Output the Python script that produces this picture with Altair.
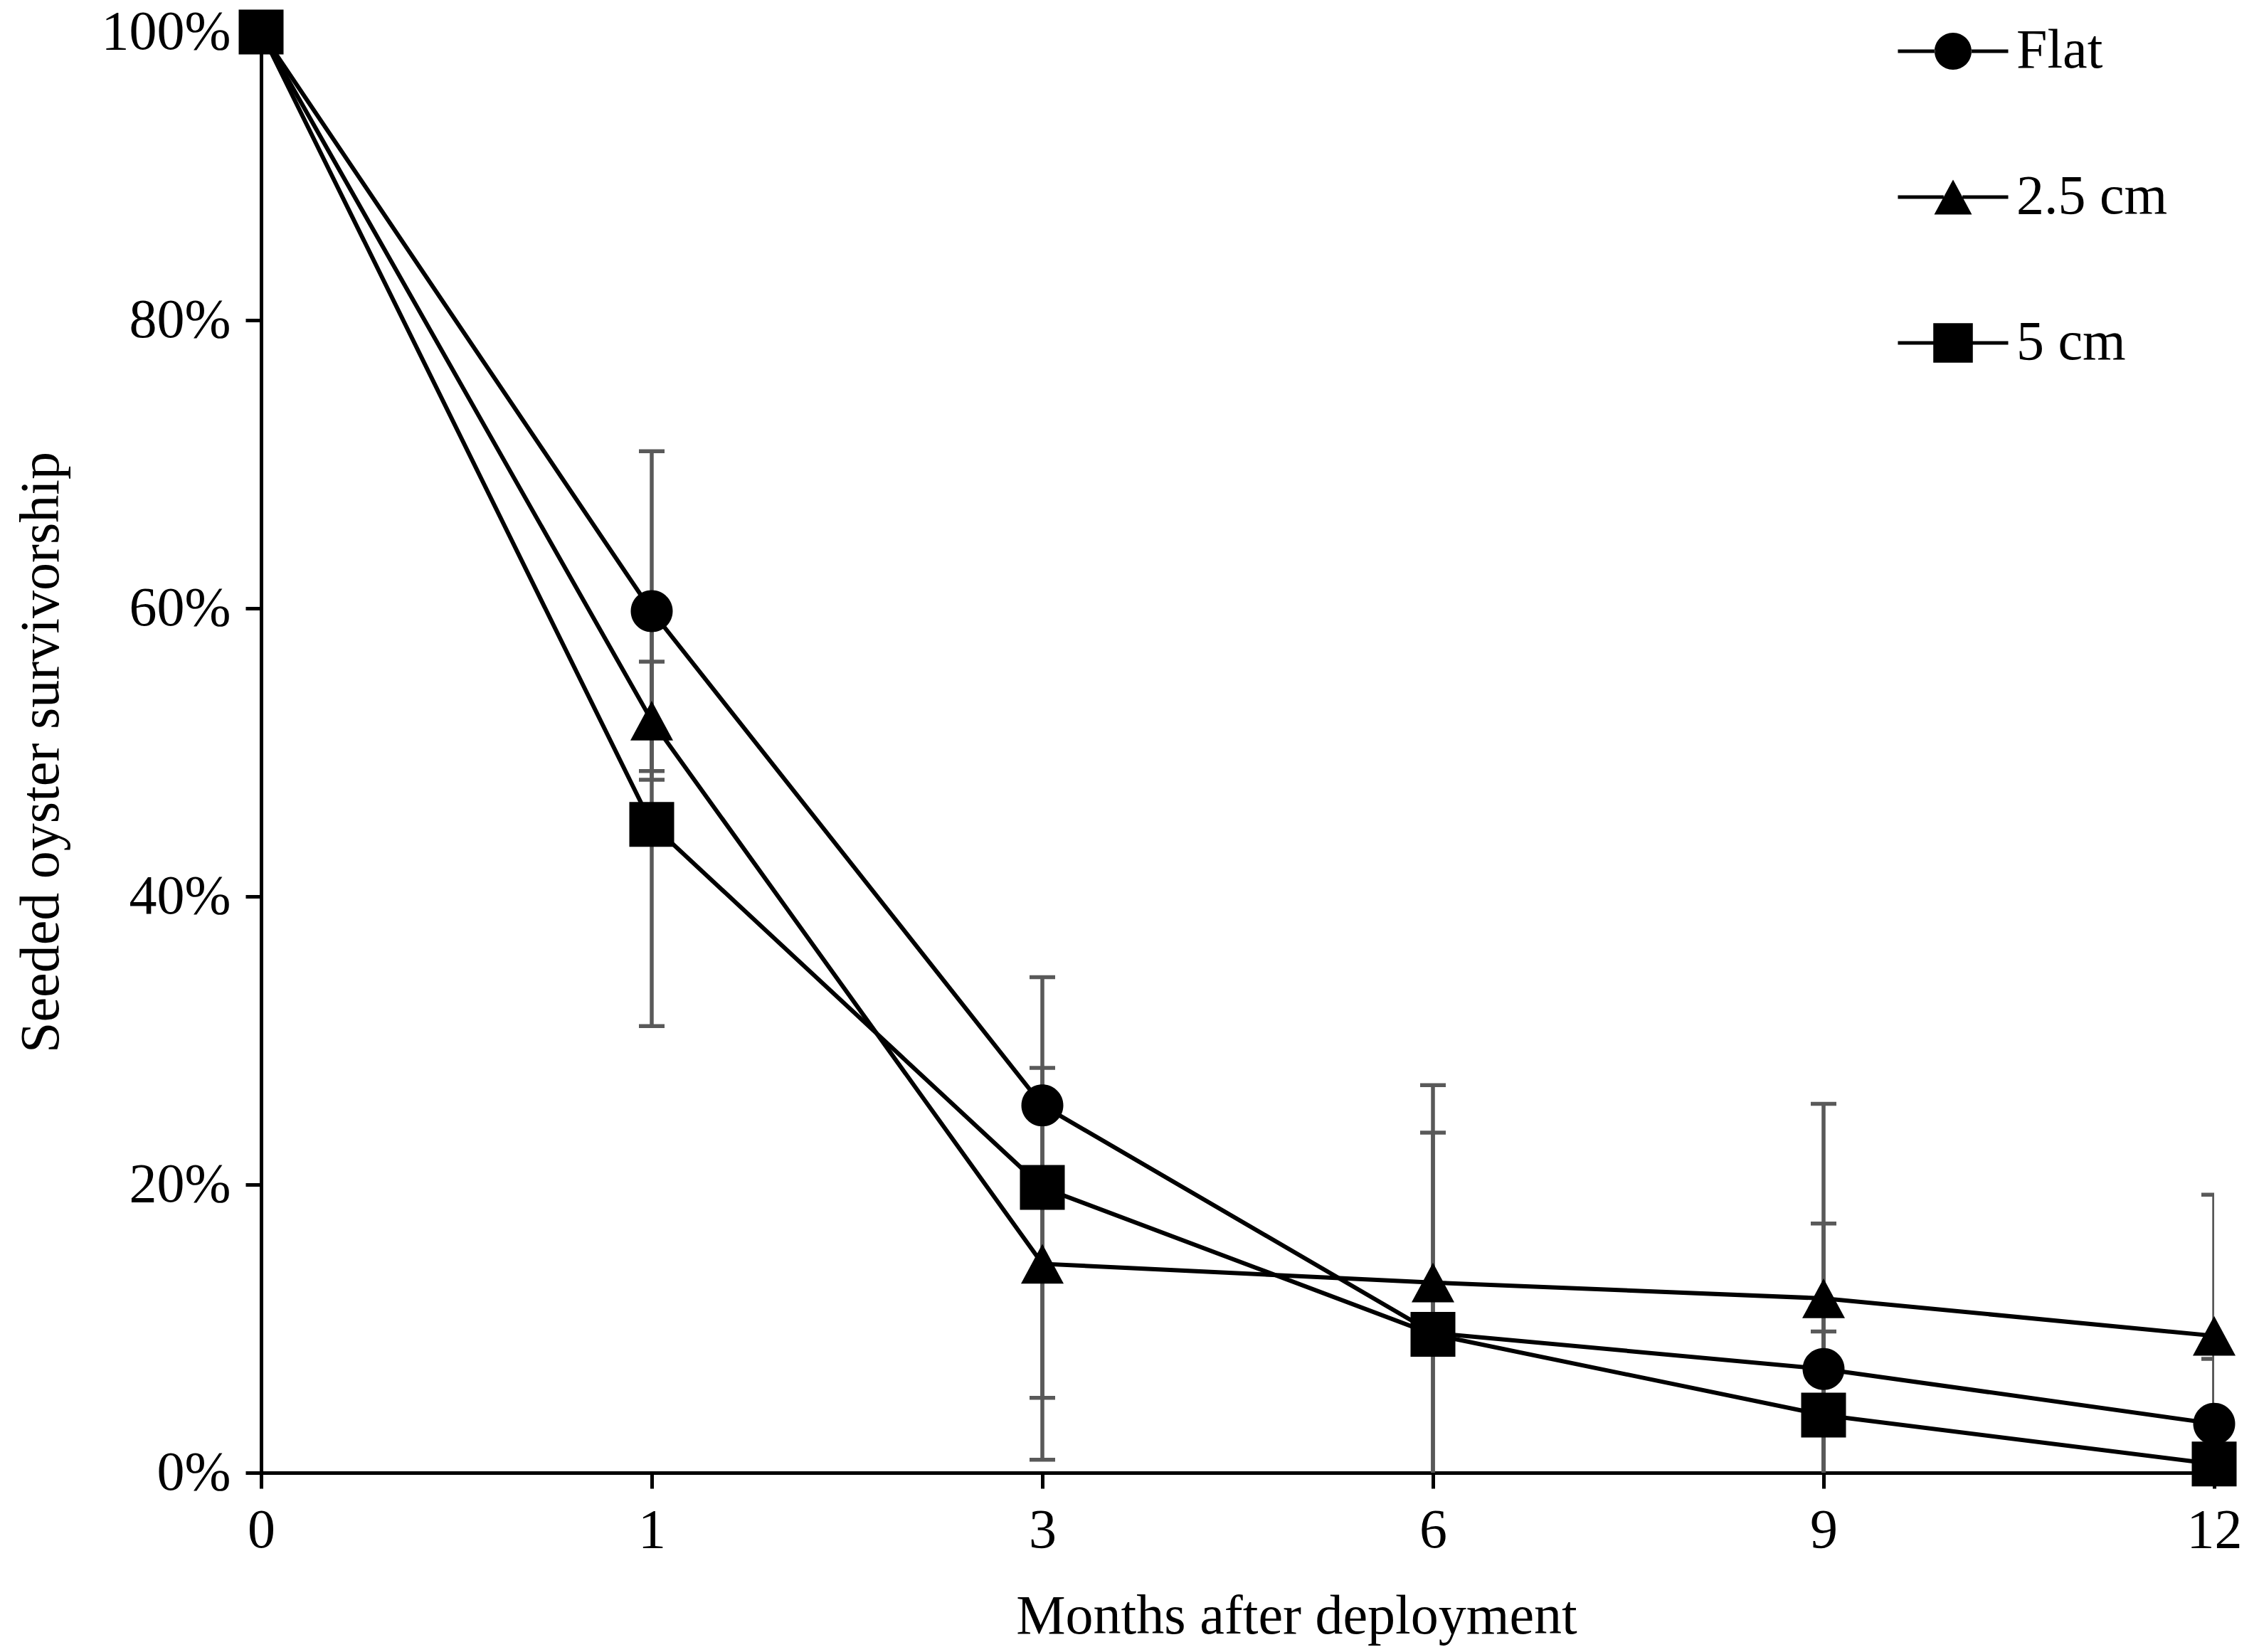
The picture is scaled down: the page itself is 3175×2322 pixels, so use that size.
import altair as alt
import pandas as pd

months = ["0", "1", "3", "6", "9", "12"]
series_names = ["Flat", "2.5 cm", "5 cm"]

flat_mean = [100, 59.8, 25.5, 9.7, 7.2, 3.4]
cm25_mean = [100, 52.2, 14.5, 13.2, 12.1, 9.5]
cm5_mean = [100, 45.0, 19.8, 9.6, 4.0, 0.6]

flat_err = [0, 11.1, 1.0, 13.9, 10.1, 4.5]
cm25_err = [0, 4.1, 13.6, 13.7, 13.5, 9.8]
cm5_err = [0, 14.0, 14.6, 1.0, 5.8, 1.0]

rows = []
for name, means, errs in zip(series_names,
                             [flat_mean, cm25_mean, cm5_mean],
                             [flat_err, cm25_err, cm5_err]):
    for i, (m, v, e) in enumerate(zip(months, means, errs)):
        rows.append({"month": m, "idx": i, "series": name,
                     "value": v / 100, "lo": (v - e) / 100, "hi": (v + e) / 100,
                     "err": e})
df = pd.DataFrame(rows)

# marker paths (unit = sqrt(size)/2)
circle_p = "M-0.983,0A0.983,0.983 0 1,0 0.983,0A0.983,0.983 0 1,0 -0.983,0Z"
tri_p = "M0,-0.93L1,0.93L-1,0.93Z"
sq_p = "M-1.05,-1.05L1.05,-1.05L1.05,1.05L-1.05,1.05Z"


def stubs(inner):
    t = 0.095
    L = 2.93
    return (f" M{-L},{-t}L{-inner},{-t}L{-inner},{t}L{-L},{t}Z"
            f" M{inner},{-t}L{L},{-t}L{L},{t}L{inner},{t}Z")


legend_paths = [circle_p + stubs(0.97), tri_p + stubs(0.5), sq_p + stubs(1.0)]

FONT = "Liberation Serif"
FS = 78

x_enc = alt.X("month:O", sort=months,
              scale=alt.Scale(type="point", padding=0),
              axis=alt.Axis(title="Months after deployment", labelAngle=0,
                            tickSize=22, tickWidth=5, domainWidth=5,
                            tickColor="black", domainColor="black",
                            labelColor="black", labelFont=FONT, labelFontSize=FS,
                            labelPadding=20, titleFont=FONT, titleFontSize=FS,
                            titleFontWeight="normal", titleColor="black",
                            titleX=1455, titleY=225, titleBaseline="alphabetic",
                            titleAlign="center"))

y_scale = alt.Scale(domain=[0, 1], nice=False)
y_axis = alt.Axis(title="Seeded oyster survivorship",
                  values=[0, 0.2, 0.4, 0.6, 0.8, 1.0], format=".0%",
                  grid=False, tickSize=22, tickWidth=5, domainWidth=5,
                  tickColor="black", domainColor="black",
                  labelColor="black", labelFont=FONT, labelFontSize=FS,
                  labelPadding=21, labelLimit=500, titleFont=FONT, titleFontSize=FS,
                  titleFontWeight="normal", titleColor="black",
                  titleX=-286, titleY=1012, titleAngle=270,
                  titleBaseline="alphabetic", titleAlign="center")

base = alt.Chart(df)
err_df = base.transform_filter(alt.datum.err > 0)

bars = err_df.mark_rule(color="#595959", strokeWidth=5.5, clip=True).encode(
    x=x_enc,
    y=alt.Y("lo:Q", scale=y_scale, axis=y_axis),
    y2="hi:Q",
)
cap_lo = err_df.mark_tick(orient="horizontal", size=36, thickness=5.5,
                          color="#595959", clip=True, opacity=1).encode(
    x=x_enc, y=alt.Y("lo:Q", scale=y_scale))
cap_hi = err_df.mark_tick(orient="horizontal", size=36, thickness=5.5,
                          color="#595959", clip=True, opacity=1).encode(
    x=x_enc, y=alt.Y("hi:Q", scale=y_scale))

lines = base.mark_line(color="black", strokeWidth=6).encode(
    x=x_enc,
    y=alt.Y("value:Q", scale=y_scale),
    detail="series:N",
    order="idx:Q",
)

points = base.mark_point(filled=True, size=3600, opacity=1, color="black").encode(
    x=x_enc,
    y=alt.Y("value:Q", scale=y_scale),
    shape=alt.Shape("series:N",
                    scale=alt.Scale(domain=series_names, range=[circle_p, tri_p, sq_p]),
                    legend=None),
)

# legend-only layer (no rows): line-through-marker symbols
legend_layer = base.transform_filter(alt.datum.idx < 0).mark_point(
    filled=True, color="black", opacity=1, size=2800
).encode(
    x=x_enc,
    y=alt.Y("value:Q", scale=y_scale),
    shape=alt.Shape("series:N",
                    scale=alt.Scale(domain=series_names, range=legend_paths),
                    legend=alt.Legend(title=None, orient="none",
                                      legendX=2339, legendY=-12,
                                      symbolSize=2800, symbolFillColor="black",
                                      labelFont=FONT, labelFontSize=FS,
                                      labelColor="black", labelOffset=50,
                                      labelLimit=600, rowPadding=127,
                                      padding=0)),
)

chart = alt.layer(bars, cap_lo, cap_hi, lines, points, legend_layer).resolve_scale(
    shape="independent"
).properties(
    width=2745, height=2025,
    padding={"left": 359, "top": 37, "right": 55, "bottom": 244},
    autosize=alt.AutoSizeParams(type="none"),
    background="white",
).configure_view(stroke=None)

chart.save("out.html", embed_options={"renderer": "svg", "actions": False})
